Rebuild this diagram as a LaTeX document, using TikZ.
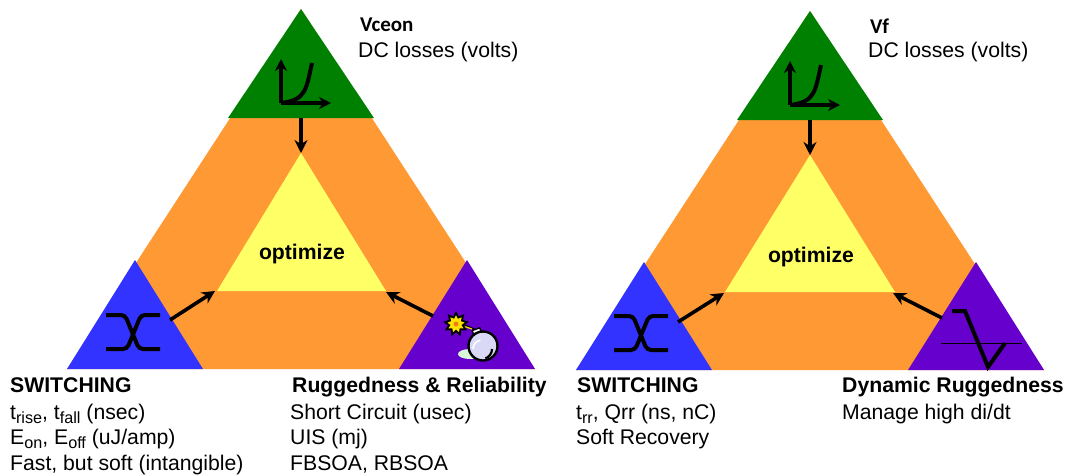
\documentclass[tikz,border=0pt]{standalone}
\usepackage{fontspec}
\setmainfont{Liberation Sans}
\newfontfamily\headfont{Carlito}
\usetikzlibrary{arrows.meta,shapes.geometric}
\definecolor{dcgreen}{HTML}{008000}
\definecolor{midorange}{HTML}{FF9933}
\definecolor{coreyellow}{HTML}{FFFF66}
\definecolor{swblue}{HTML}{3333FF}
\definecolor{rugpurple}{HTML}{6600CC}
\newcommand{\lowtxt}[1]{\raisebox{-4.5pt}{\fontsize{16.2}{16}\selectfont #1}}
\tikzset{
    txt/.style={anchor=base west, inner sep=0pt, font=\fontsize{21.2}{25}\selectfont},
    head/.style={txt, font=\fontsize{21.2}{25}\selectfont\bfseries},
    vhead/.style={txt, font=\fontsize{21}{24}\selectfont\headfont\bfseries},
    mid/.style={inner sep=0pt, font=\fontsize{21.2}{25}\selectfont\bfseries},
    pointer/.style={-{Stealth[length=13pt,width=13pt]}, line width=3.6pt},
    glyph/.style={line width=4pt},
    crossing/.style={glyph, rounded corners=4pt},
    axis/.style={glyph, -{Stealth[length=12pt,width=12pt]}},
}
\begin{document}
\begin{tikzpicture}[x=1pt, y=-1pt]
    \useasboundingbox (0,0) rectangle (1065,475);

    % Left triangle
    \coordinate (T1) at (301,9);
    \coordinate (G1a) at (228,118);
    \coordinate (G1b) at (374,118);
    \coordinate (B1) at (135,260);
    \coordinate (B1a) at (67,369);
    \coordinate (B1b) at (203,369);
    \coordinate (P1) at (467,260);
    \coordinate (P1a) at (399,369);
    \coordinate (P1b) at (535,369);
    \coordinate (Y1) at (301,153);
    \coordinate (Y1a) at (217,291);
    \coordinate (Y1b) at (386,291);
    \fill[midorange] (T1) -- (B1a) -- (P1b) -- cycle;
    \fill[dcgreen] (T1) -- (G1a) -- (G1b) -- cycle;
    \fill[swblue] (B1) -- (B1a) -- (B1b) -- cycle;
    \fill[rugpurple] (P1) -- (P1a) -- (P1b) -- cycle;
    \fill[coreyellow] (Y1) -- (Y1a) -- (Y1b) -- cycle;

    % Right triangle
    \coordinate (T2) at (810,11);
    \coordinate (G2a) at (737,120);
    \coordinate (G2b) at (883,120);
    \coordinate (B2) at (644,262);
    \coordinate (B2a) at (576,370);
    \coordinate (B2b) at (712,370);
    \coordinate (P2) at (976,262);
    \coordinate (P2a) at (908,370);
    \coordinate (P2b) at (1044,370);
    \coordinate (Y2) at (810,155);
    \coordinate (Y2a) at (725,292);
    \coordinate (Y2b) at (895,292);
    \fill[midorange] (T2) -- (B2a) -- (P2b) -- cycle;
    \fill[dcgreen] (T2) -- (G2a) -- (G2b) -- cycle;
    \fill[swblue] (B2) -- (B2a) -- (B2b) -- cycle;
    \fill[rugpurple] (P2) -- (P2a) -- (P2b) -- cycle;
    \fill[coreyellow] (Y2) -- (Y2a) -- (Y2b) -- cycle;

    % Arrows
    \coordinate (G1out) at (301,118);
    \coordinate (B1out) at (170,320);
    \coordinate (B1in) at (215,291);
    \coordinate (P1out) at (433,316);
    \coordinate (P1in) at (386,292);
    \coordinate (G2out) at (810,120);
    \coordinate (B2out) at (678,322);
    \coordinate (B2in) at (724,293);
    \coordinate (P2out) at (942,318);
    \coordinate (P2in) at (893,293);
    \draw[pointer] (G1out) -- (Y1);
    \draw[pointer] (B1out) -- (B1in);
    \draw[pointer] (P1out) -- (P1in);
    \draw[pointer] (G2out) -- (Y2);
    \draw[pointer] (B2out) -- (B2in);
    \draw[pointer] (P2out) -- (P2in);

    % Curve icons
    \coordinate (O1) at (281,103);
    \coordinate (O2) at (790,105);
    \draw[axis] (O1) -- ++(0,-44);
    \draw[axis] (O1) -- ++(50,0);
    \draw[glyph] (O1) .. controls (306,100) and (306,90) .. (312,63);
    \draw[axis] (O2) -- ++(0,-44);
    \draw[axis] (O2) -- ++(50,0);
    \draw[glyph] (O2) .. controls (815,102) and (815,92) .. (821,65);

    % Switching icons
    \draw[crossing] (106,315) -- (125,315) -- (139,349) -- (160,349);
    \draw[crossing] (160,315) -- (141,315) -- (127,349) -- (106,349);
    \draw[crossing] (614,316) -- (633,316) -- (647,350) -- (668,350);
    \draw[crossing] (668,316) -- (649,316) -- (635,350) -- (614,350);

    % Bomb
    \fill[black!15!green!15!white] (470,354) ellipse (12pt and 5pt);
    \draw[line width=1.6pt] (462,324) -- (476,330);
    \draw[line width=1.2pt, yellow!80!orange] (460,325) -- (472,329);
    \node[star, star points=9, star point ratio=1.6, minimum size=22pt, inner sep=0pt, draw=black, line width=1.8pt, fill=yellow!85!orange] (spark) at (456,324) {};
    \fill[orange!70!brown] (spark) circle (2.5pt);
    \draw[line width=1.4pt, black, fill=white, rotate around={20:(477,332)}] (473,329) rectangle (481,335);
    \node[circle, minimum size=29pt, inner sep=0pt, draw=black, line width=2.4pt, fill=black!25!blue!15!white] (bomb) at (483,346) {};
    \draw[line width=1.6pt, white] (473,349) arc (180:100:9pt);
    \draw[line width=2.2pt, black] (492,349) arc (0:-70:10pt);

    % Dynamic ruggedness icon
    \draw[line width=1pt] (941,343) -- (1022,343);
    \draw[glyph] (952,311) -- (965,311) -- (988,367) -- (1005,343);

    % Labels
    \node[mid] (opt1) at (302,254) {optimize};
    \node[mid] (opt2) at (811,257) {optimize};
    \node[vhead] (vce) at (360,31) {Vceon};
    \node[txt] (dc1) at (358,57) {DC losses (volts)};
    \node[vhead] (vf) at (870,33) {Vf};
    \node[txt] (dc2) at (868,57) {DC losses (volts)};
    \node[head] (sw1) at (10,392) {SWITCHING};
    \node[txt] (sw1a) at (10,419) {t\lowtxt{rise}, t\lowtxt{fall} (nsec)};
    \node[txt] (sw1b) at (10,444) {E\lowtxt{on}, E\lowtxt{off} (uJ/amp)};
    \node[txt] (sw1c) at (10,470) {Fast, but soft (intangible)};
    \node[head] (rr) at (292,392) {Ruggedness \& Reliability};
    \node[txt] (rra) at (290,419) {Short Circuit (usec)};
    \node[txt] (rrb) at (290,444) {UIS (mj)};
    \node[txt] (rrc) at (290,470) {FBSOA, RBSOA};
    \node[head] (sw2) at (577,392) {SWITCHING};
    \node[txt] (sw2a) at (576,419) {t\lowtxt{rr}, Qrr (ns, nC)};
    \node[txt] (sw2b) at (576,444) {Soft Recovery};
    \node[head] (dr) at (842,392) {Dynamic Ruggedness};
    \node[txt] (dra) at (842,419) {Manage high di/dt};
\end{tikzpicture}
\end{document}
